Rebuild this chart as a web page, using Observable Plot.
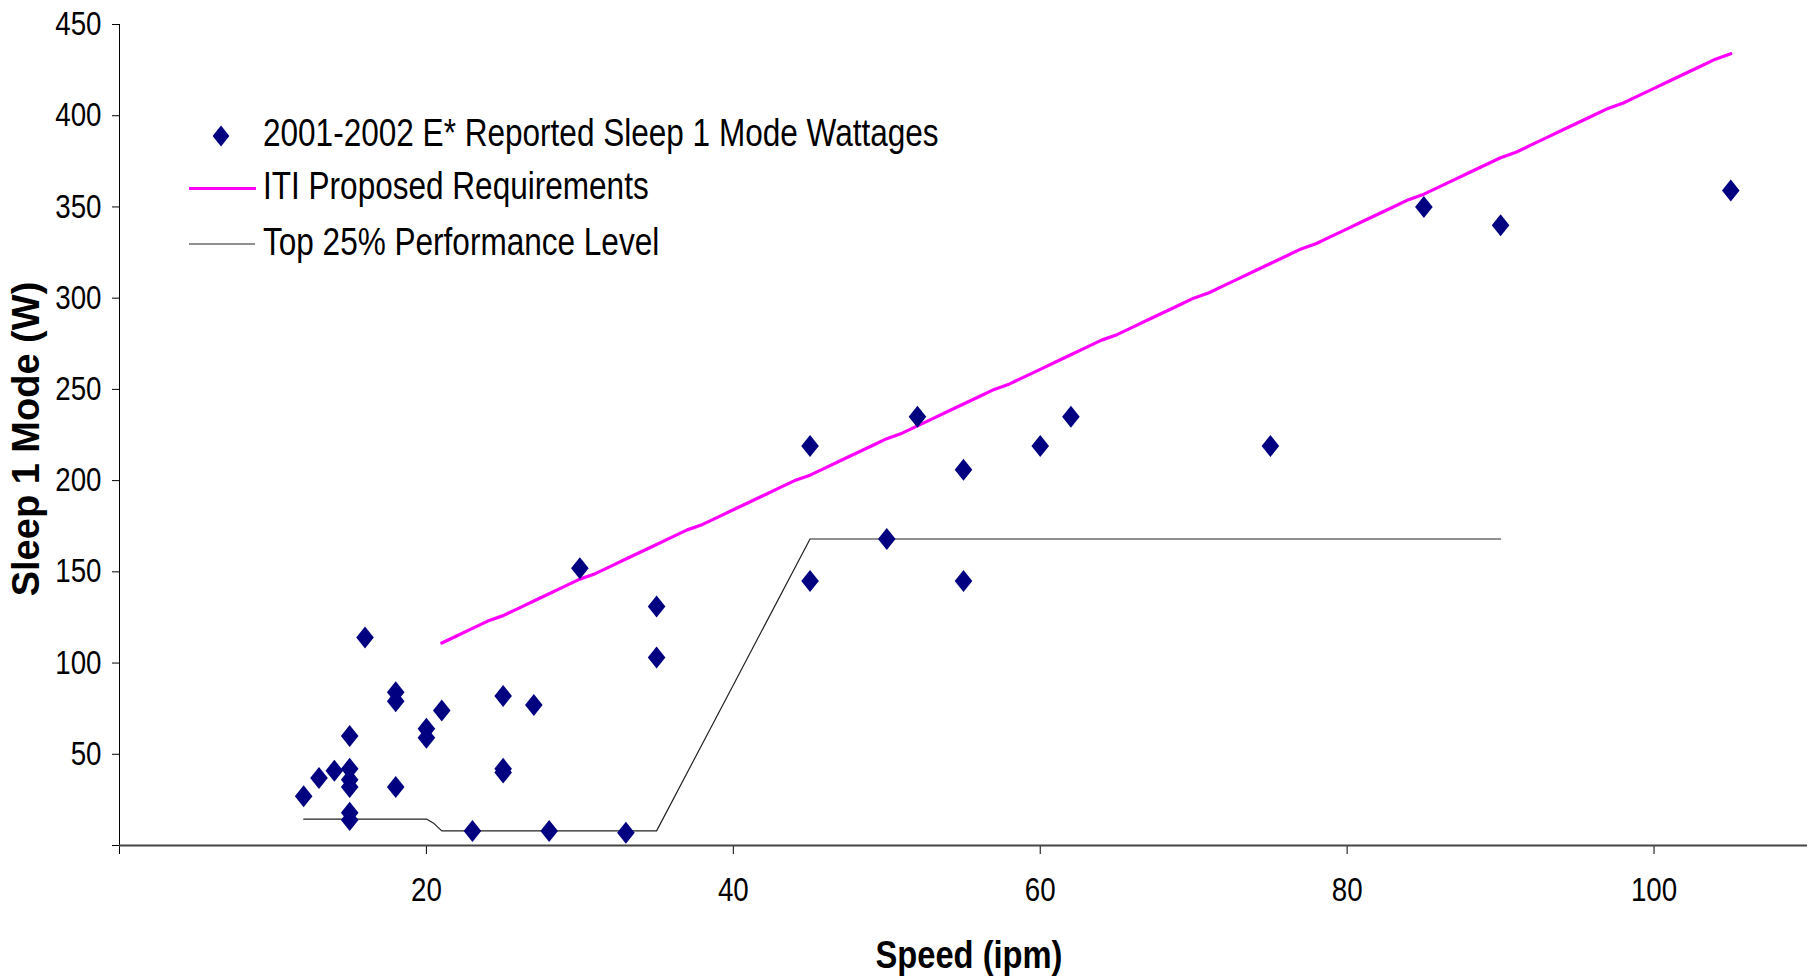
<!DOCTYPE html>
<html>
<head>
<meta charset="utf-8">
<script src="https://cdn.jsdelivr.net/npm/d3@7"></script>
<script src="https://cdn.jsdelivr.net/npm/@observablehq/plot@0.6"></script>
<style>
html, body { margin: 0; padding: 0; background: #ffffff; }
#chart { width: 1818px; height: 977px; }
</style>
</head>
<body>
<div id="chart"></div>
<script>
// ---- Data ----
const speedIpm = [12, 13, 14, 15, 15, 15, 15, 15, 15, 16, 18, 18, 18, 20, 20, 21, 23, 25, 25, 25, 27, 28, 30, 33, 35, 35, 45, 45, 50, 52, 55, 55, 60, 62, 75, 85, 90, 105];
const sleepW   = [27, 37, 41, 60, 42, 36, 32, 18, 14, 114, 84, 79, 32, 64, 59, 74, 8, 82, 42, 40, 77, 8, 152, 7, 131, 103, 219, 145, 168, 235, 206, 145, 219, 235, 219, 350, 340, 359];

const itiSpeed = [21,22,23,24,25,26,27,28,29,30,31,32,33,34,35,36,37,38,39,40,41,42,43,44,45,46,47,48,49,50,51,52,53,54,55,56,57,58,59,60,61,62,63,64,65,66,67,68,69,70,71,72,73,74,75,76,77,78,79,80,81,82,83,84,85,86,87,88,89,90,91,92,93,94,95,96,97,98,99,100,101,102,103,104,105];
const itiWatts = [111,115,119,123,126,130,134,138,142,146,149,153,157,161,165,169,173,176,180,184,188,192,196,200,203,207,211,215,219,223,226,230,234,238,242,246,250,253,257,261,265,269,273,277,280,284,288,292,296,300,303,307,311,315,319,323,327,330,334,338,342,346,350,354,357,361,365,369,373,377,380,384,388,392,396,400,404,407,411,415,419,423,427,431,434];

const topSpeed = [12, 15, 18, 20, 20.5, 21, 23, 25, 27, 28, 30, 33, 35, 40, 45, 50, 52, 55, 60, 62, 75, 85, 90];
const topWatts = [14.5, 14.5, 14.5, 14.5, 12, 8, 8, 8, 8, 8, 8, 8, 8, 88, 168, 168, 168, 168, 168, 168, 168, 168, 168];

const xTicks = [0, 20, 40, 60, 80, 100];
const yTicks = [0, 50, 100, 150, 200, 250, 300, 350, 400, 450];
const legendLabels = ["2001-2002 E* Reported Sleep 1 Mode Wattages", "ITI Proposed Requirements", "Top 25% Performance Level"];
const xTitle = "Speed (ipm)";
const yTitle = "Sleep 1 Mode (W)";

// ---- Tables built from the arrays ----
const points = speedIpm.map((x, i) => ({x, y: sleepW[i]}));
const iti = itiSpeed.map((x, i) => ({x, y: itiWatts[i]}));
const top25 = topSpeed.map((x, i) => ({x, y: topWatts[i]}));

// Excel-like diamond marker (slightly taller than wide)
const diamond = {
  draw(ctx, size) {
    const r = Math.sqrt(size / Math.PI);
    const w = r * 0.8;
    ctx.moveTo(0, -r);
    ctx.lineTo(w, 0);
    ctx.lineTo(0, r);
    ctx.lineTo(-w, 0);
    ctx.closePath();
  }
};

const FONT = "'Liberation Sans', Arial, Helvetica, sans-serif";

const plot = Plot.plot({
  width: 1818,
  height: 977,
  marginLeft: 119,
  marginRight: 11,
  marginTop: 24,
  marginBottom: 132,
  x: {domain: [0, 110]},
  y: {domain: [0, 450]},
  style: {fontFamily: FONT, fontSize: "33px", color: "#000", background: "#fff", overflow: "visible"},
  marks: [
    Plot.ruleX([0], {stroke: "#000", strokeWidth: 1}),
    Plot.axisY({ticks: yTicks, tickSize: 7, tickPadding: 11, tickFormat: d => d === 0 ? "" : String(d), label: null}),
    Plot.axisX({ticks: xTicks, tickSize: 9, tickPadding: 23, tickFormat: d => d === 0 ? "" : String(d), label: null}),
    Plot.line(top25, {x: "x", y: "y", curve: "linear", stroke: "#222", strokeWidth: 1.2}),
    Plot.line(iti, {x: "x", y: "y", stroke: "#ff00ff", strokeWidth: 3.2}),
    Plot.dot(points, {x: "x", y: "y", symbol: diamond, r: 11, fill: "#000080", stroke: "none"}),
    Plot.ruleY([0], {stroke: "#444", strokeWidth: 2})
  ]
});

document.getElementById("chart").appendChild(plot);

const svg = d3.select(plot);

// condensed look of the original lettering
function condense(sel, k) {
  sel.each(function() {
    const len = this.getComputedTextLength();
    if (len > 0) {
      d3.select(this).attr("textLength", len * k).attr("lengthAdjust", "spacingAndGlyphs");
    }
  });
}
condense(svg.selectAll('g[aria-label="y-axis tick label"] text, g[aria-label="x-axis tick label"] text'), 0.84);

// Axis titles
const xt = svg.append("text")
  .attr("x", 969).attr("y", 968)
  .attr("text-anchor", "middle")
  .attr("font-family", FONT).attr("font-weight", "bold").attr("font-size", 38)
  .attr("fill", "#000")
  .text(xTitle);
condense(xt, 0.86);

svg.append("text")
  .attr("transform", "translate(39,439) rotate(-90)")
  .attr("text-anchor", "middle")
  .attr("font-family", FONT).attr("font-weight", "bold").attr("font-size", 38)
  .attr("fill", "#000")
  .text(yTitle);

// Legend (inside the plot area, top-left)
const lg = svg.append("g")
  .attr("font-family", FONT).attr("font-size", 38).attr("fill", "#000")
  .attr("text-anchor", "start");
lg.append("path")
  .attr("transform", "translate(221,136)")
  .attr("d", d3.symbol(diamond, Math.PI * 10.5 * 10.5)())
  .attr("fill", "#000080");
lg.append("line").attr("x1", 189).attr("x2", 256).attr("y1", 188.5).attr("y2", 188.5)
  .attr("stroke", "#ff00ff").attr("stroke-width", 3);
lg.append("line").attr("x1", 189).attr("x2", 255).attr("y1", 244).attr("y2", 244)
  .attr("stroke", "#222").attr("stroke-width", 1.2);
const baselines = [146, 199, 255];
const lt = lg.selectAll("text.lg").data(legendLabels).join("text")
  .attr("class", "lg")
  .attr("x", 263)
  .attr("y", (d, i) => baselines[i])
  .attr("text-anchor", "start")
  .text(d => d);
condense(lt, 0.83);
</script>
</body>
</html>
